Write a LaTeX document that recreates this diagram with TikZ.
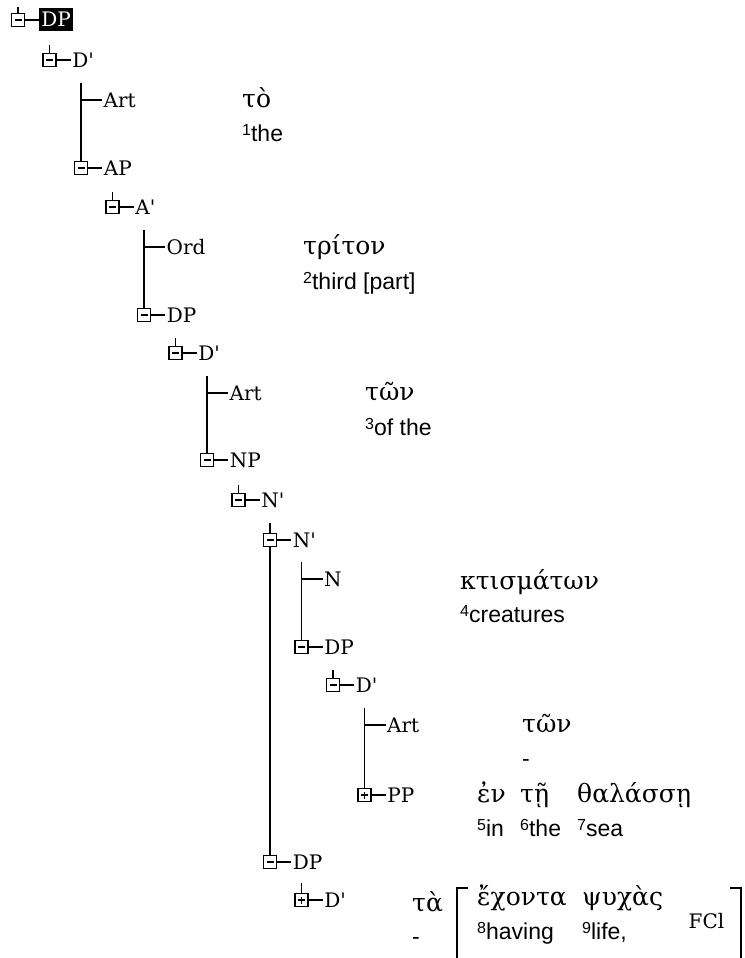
\documentclass[tikz,border=0pt]{standalone}
\usepackage{fontspec}
\setmainfont{DejaVu Serif}
\newfontfamily\catfont{DejaVu Serif}
\newfontfamily\glossfont{Liberation Sans}
\usetikzlibrary{positioning}
\tikzset{
    %Define style for the tree boxes
    minbox/.style={
           draw, line width=1.4pt,
           fill=white,
           minimum size=13pt,
           inner sep=0pt,
           path picture={\draw[line width=1.4pt] ([xshift=3pt]path picture bounding box.west) -- ([xshift=-3pt]path picture bounding box.east);}},
    plusbox/.style={
           minbox,
           path picture={\draw[line width=1.4pt] ([xshift=3pt]path picture bounding box.west) -- ([xshift=-3pt]path picture bounding box.east)
                         ([yshift=3pt]path picture bounding box.south) -- ([yshift=-3pt]path picture bounding box.north);}},
    % Define text styles
    cat/.style={
           font=\catfont\fontsize{20}{24}\selectfont,
           inner sep=0pt, inner xsep=1.5pt,
           anchor=base west},
    greek/.style={
           font=\fontsize{25}{29}\selectfont,
           inner sep=0pt,
           anchor=base west},
    gloss/.style={
           font=\glossfont\fontsize{23}{27}\selectfont,
           inner sep=0pt,
           anchor=base west},
    % Define line style
    branch/.style={
           line width=1.4pt}
}
% box node with its label
\newcommand*{\catnode}[5]{%
  \node[#2] (#1b) at (#3,#4) {};
  \node[cat] (#1) at ([xshift=14pt,yshift=-7pt]#1b.east) {#5};
  \draw[branch] (#1b.east) -- (#1b.east -| #1.west);}
% leaf hanging on a branch line
\newcommand*{\leafnode}[4]{%
  \coordinate (#1j) at (#2,#3);
  \node[cat] (#1) at ([xshift=21pt,yshift=-7pt]#1j) {#4};
  \draw[branch] (#1j) -- (#1j -| #1.west);}
\newcommand*{\wnum}[1]{\raisebox{6pt}{\fontsize{16}{18}\selectfont #1}}

\begin{document}
\begin{tikzpicture}[x=1pt,y=-1pt]
\useasboundingbox (0,0) rectangle (744,958);

% Tree: boxes and leaves, one row each
\node[minbox] (dp0b) at (18,20) {};
\node[cat, fill=black, text=white, inner xsep=2pt, inner ysep=4pt] (dp0) at ([xshift=14pt,yshift=-7pt]dp0b.east) {DP};
\draw[branch] (dp0b.east) -- (dp0b.east -| dp0.west);
\catnode{d1}{minbox}{49.5}{60}{D'}
\leafnode{art1}{81}{100}{Art}
\catnode{ap1}{minbox}{81}{168}{AP}
\catnode{a1}{minbox}{112.5}{207}{A'}
\leafnode{ord1}{144}{247}{Ord}
\catnode{dp1}{minbox}{144}{315}{DP}
\catnode{d2}{minbox}{175.5}{353}{D'}
\leafnode{art2}{207}{393}{Art}
\catnode{np1}{minbox}{207}{460}{NP}
\catnode{n1}{minbox}{238.5}{500}{N'}
\catnode{n2}{minbox}{270}{540}{N'}
\leafnode{nn1}{301.5}{579}{N}
\catnode{dp2}{minbox}{301.5}{647}{DP}
\catnode{d3}{minbox}{333}{685}{D'}
\leafnode{art3}{364.5}{725}{Art}
\catnode{pp1}{plusbox}{364.5}{795}{PP}
\catnode{dp3}{minbox}{270}{862}{DP}
\catnode{d4}{plusbox}{301.5}{900}{D'}

% Tops of the branch lines
\coordinate (t0) at (18,7);
\coordinate (t1) at (49.5,45);
\coordinate (t2) at (81,83);
\coordinate (t3) at (112.5,192);
\coordinate (t4) at (144,230);
\coordinate (t5) at (175.5,338);
\coordinate (t6) at (207,376);
\coordinate (t7) at (238.5,485);
\coordinate (t8) at (270,523);
\coordinate (t9) at (301.5,562);
\coordinate (t10) at (333,670);
\coordinate (t11) at (364.5,708);
\coordinate (t12) at (301.5,883);

\draw[branch] (t0) -- (dp0b.north);
\draw[branch] (t1) -- (d1b.north);
\draw[branch] (t2) -- (ap1b.north);
\draw[branch] (t3) -- (a1b.north);
\draw[branch] (t4) -- (dp1b.north);
\draw[branch] (t5) -- (d2b.north);
\draw[branch] (t6) -- (np1b.north);
\draw[branch] (t7) -- (n1b.north);
\draw[branch] (t8) -- (n2b.north);
\draw[branch] (n2b.south) -- (dp3b.north);
\draw[branch] (t9) -- (dp2b.north);
\draw[branch] (t10) -- (d3b.north);
\draw[branch] (t11) -- (pp1b.north);
\draw[branch] (t12) -- (d4b.north);

% Greek words and their glosses
\node[greek] (gk1) at (242,107) {τὸ};
\node[gloss] (gl1) at (242,141) {\wnum{1}the};
\node[greek] (gk2) at (303,254) {τρίτον};
\node[gloss] (gl2) at (303,289) {\wnum{2}third [part]};
\node[greek] (gk3) at (365,400) {τῶν};
\node[gloss] (gl3) at (365,435) {\wnum{3}of the};
\node[greek] (gk4) at (460,589) {κτισμάτων};
\node[gloss] (gl4) at (460,622) {\wnum{4}creatures};
\node[greek] (gk5) at (522,732) {τῶν};
\node[gloss] (gl5) at (522,766) {-};
\node[greek] (gk6) at (477,802) {ἐν};
\node[gloss] (gl6) at (477,836) {\wnum{5}in};
\node[greek] (gk7) at (520,802) {τῇ};
\node[gloss] (gl7) at (520,836) {\wnum{6}the};
\node[greek] (gk8) at (577,802) {θαλάσσῃ};
\node[gloss] (gl8) at (577,836) {\wnum{7}sea};
\node[greek] (gk9) at (412,911) {τὰ};
\node[gloss] (gl9) at (412,944) {-};
\node[greek] (gk10) at (477,905) {ἔχοντα};
\node[gloss] (gl10) at (477,939) {\wnum{8}having};
\node[greek] (gk11) at (582,905) {ψυχὰς};
\node[gloss] (gl11) at (582,939) {\wnum{9}life,};
\node[cat] (fcl) at (687,928) {FCl};

% Brackets round the clause
\draw[line width=2.5pt] (468,888) -- (457,888) -- (457,958);
\draw[line width=2.5pt] (730,888) -- (741,888) -- (741,958);
\end{tikzpicture}
\end{document}
